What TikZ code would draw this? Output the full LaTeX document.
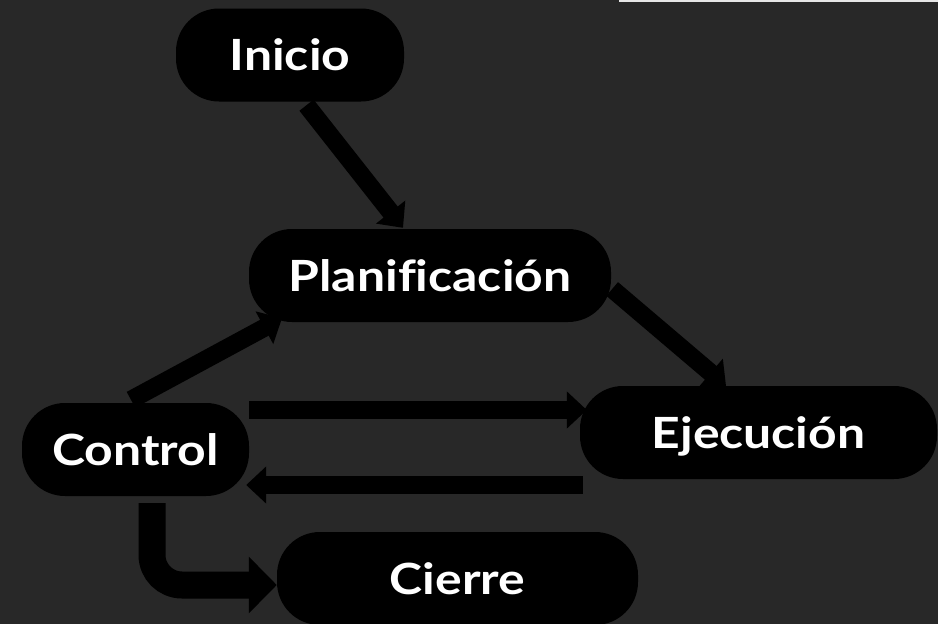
\documentclass[tikz,border=0pt]{standalone}
\usepackage{fontspec}
\setmainfont{Lato}[FakeStretch=1.16, Ligatures=NoCommon]
\usetikzlibrary{arrows.meta,calc}
\definecolor{bg}{RGB}{40,40,40}
\definecolor{strip}{RGB}{230,230,230}
\tikzset{
  stage/.style={rectangle, rounded corners=43pt, fill=black, text=white,
    font=\fontsize{43}{46}\selectfont\bfseries, minimum height=93pt,
    text height=31pt, text depth=0pt, inner sep=0pt},
  thinarr/.style={line width=18pt, draw=black, -{Triangle[width=36pt,length=20pt]}},
  thickarr/.style={line width=27pt, draw=black, rounded corners=30pt, -{Triangle[width=55pt,length=28pt]}}
}
\begin{document}
\begin{tikzpicture}[x=1pt,y=-1pt]
\fill[bg] (0,0) rectangle (938,624);
\useasboundingbox (0,0) rectangle (938,624);
\fill[strip] (619,0) rectangle (938,1.6);

\node[stage, minimum width=228pt] (inicio) at (290,55) {Inicio};
\node[stage, minimum width=362pt] (plan) at (430,275.5) {Planificación};
\node[stage, minimum width=357pt] (ejec) at (758.5,432.5) {Ejecución};
\node[stage, minimum width=227pt] (ctrl) at (135.5,449.5) {Control};
\node[stage, minimum width=361pt] (cierre) at (457.5,578.5) {Cierre};

\draw[thinarr] ($(inicio.south)+(16.5,3.5)$) -- ($(plan.north)+(-27,-1)$);
\draw[thinarr] ($(plan.east)+(1,13.5)$) -- ($(ejec.north)+(-32.5,0)$);
\draw[thinarr] ($(ctrl.north)+(-4.5,-3)$) -- ($(plan.south)+(-148,-4)$);
\draw[thinarr] ($(ctrl.east)+(0,-39.5)$) -- ($(ejec.west)+(7,-22.5)$);
\draw[thinarr] ($(ejec.west)+(3,52.5)$) -- ($(ctrl.east)+(-3,35.5)$);
\draw[thickarr] ($(ctrl.south)+(16.5,7)$) |- ($(cierre.west)+(0,6.5)$);
\end{tikzpicture}
\end{document}
